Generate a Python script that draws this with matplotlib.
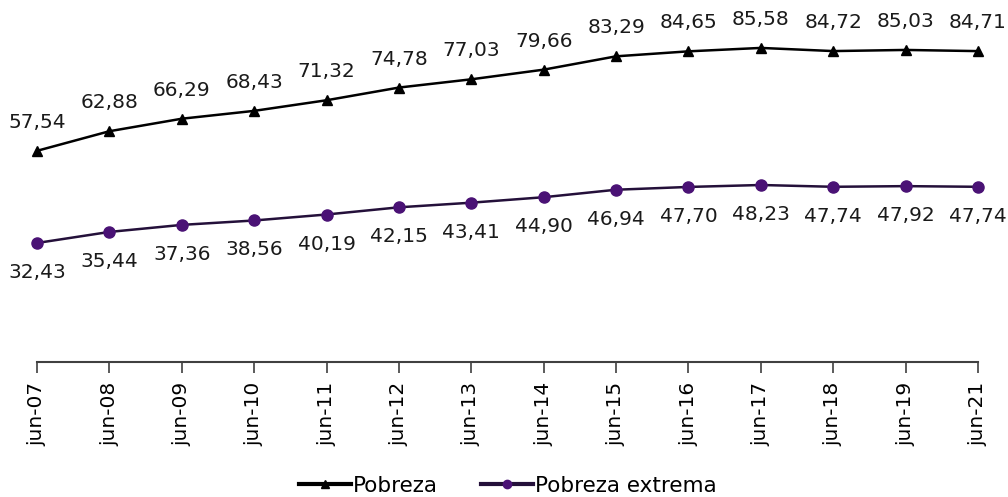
import matplotlib
matplotlib.use('Agg')
import matplotlib.pyplot as plt
from matplotlib.lines import Line2D

# ── Data ──
periodos = ['jun-07', 'jun-08', 'jun-09', 'jun-10', 'jun-11', 'jun-12', 'jun-13',
            'jun-14', 'jun-15', 'jun-16', 'jun-17', 'jun-18', 'jun-19', 'jun-21']
pobreza = [57.54, 62.88, 66.29, 68.43, 71.32, 74.78, 77.03,
           79.66, 83.29, 84.65, 85.58, 84.72, 85.03, 84.71]
pobreza_extrema = [32.43, 35.44, 37.36, 38.56, 40.19, 42.15, 43.41,
                   44.90, 46.94, 47.70, 48.23, 47.74, 47.92, 47.74]

plt.rcParams['font.family'] = ['DejaVu Sans']

W, H = 1008, 497
fig = plt.figure(figsize=(W / 100, H / 100), dpi=100)
# axis line at y=362px, x from 37 to 978 px; y=100 maps to about -5 px
ax = fig.add_axes([37 / W, 1 - 362 / H, 941 / W, 367 / H])

x = list(range(len(periodos)))
col_ext_line = '#24103a'
col_ext_mark = '#4a1275'

ax.plot(x, pobreza, color='black', lw=1.8, marker='^', markersize=7, clip_on=False)
ax.plot(x, pobreza_extrema, color=col_ext_line, lw=1.8, marker='o', markersize=8,
        markerfacecolor=col_ext_mark, markeredgecolor=col_ext_mark, clip_on=False)

def fmt(v):
    return f'{v:.2f}'.replace('.', ',')

for xi, v in zip(x, pobreza):
    ax.annotate(fmt(v), (xi, v), xytext=(0, 19), textcoords='offset pixels',
                ha='center', va='bottom', fontsize=14.5, color='#1a1a1a',
                annotation_clip=False)
for xi, v in zip(x, pobreza_extrema):
    ax.annotate(fmt(v), (xi, v), xytext=(0, -20), textcoords='offset pixels',
                ha='center', va='top', fontsize=14.5, color='#1a1a1a',
                annotation_clip=False)

ax.set_xlim(0, len(periodos) - 1)
ax.set_ylim(0, 100)
ax.set_xticks(x)
ax.set_xticklabels(periodos, rotation=90, fontsize=14.5)
ax.set_yticks([])
for s in ['top', 'right', 'left']:
    ax.spines[s].set_visible(False)
ax.spines['bottom'].set_color('#404040')
ax.spines['bottom'].set_linewidth(1.5)
ax.tick_params(axis='x', direction='out', length=8, width=1.2, color='#404040', pad=6)
ax.patch.set_alpha(0)

handles = [
    Line2D([], [], color='black', lw=3, marker='^', markersize=6),
    Line2D([], [], color=col_ext_line, lw=3, marker='o', markersize=6,
           markerfacecolor=col_ext_mark, markeredgecolor=col_ext_mark),
]
fig.legend(handles, ['Pobreza', 'Pobreza extrema'], loc='center',
           bbox_to_anchor=(508 / W, 1 - 486 / H), ncol=2, frameon=False,
           fontsize=15.5, handlelength=2.4, handletextpad=0.1, columnspacing=2.0)

fig.savefig('out.png', dpi=100)
